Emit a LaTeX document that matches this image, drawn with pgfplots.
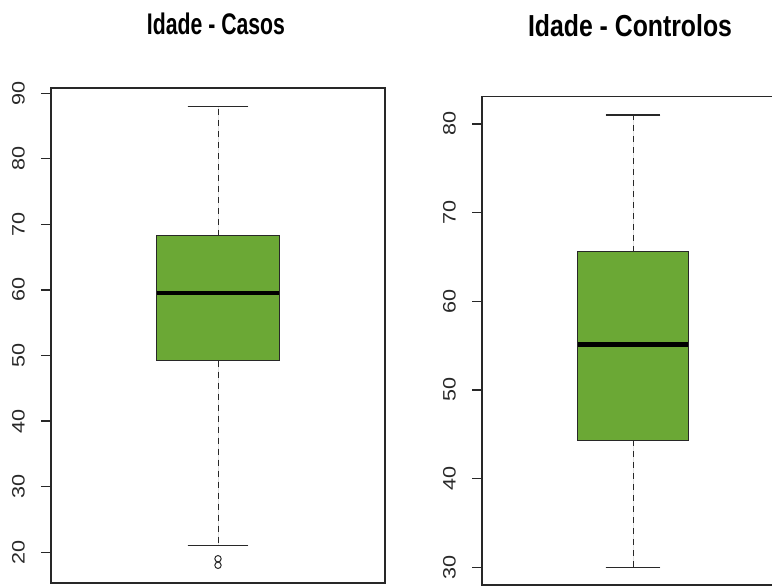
\documentclass[border=0pt]{standalone}
\usepackage{pgfplots}
\pgfplotsset{compat=1.18}
\usepgfplotslibrary{statistics}
\usepackage{fontspec}
\setmainfont{Liberation Sans}
\definecolor{boxgreen}{RGB}{107,168,53}
\definecolor{framec}{RGB}{40,40,40}

\pgfplotsset{
  rbox/.style={
    scale only axis,
    xmin=0, xmax=2,
    xtick=\empty,
    axis line style={framec, line width=1.3pt},
    ytick pos=left,
    tick align=outside,
    major tick length=10pt,
    ytick style={draw=framec, line width=1.2pt},
    /pgf/number format/assume math mode=true,
    yticklabel shift=16pt,
    yticklabel style={rotate=90, anchor=south, inner sep=0pt, font=\fontsize{18}{18}\selectfont, text=framec},
    yticklabel={\scalebox{1.2}[1]{\pgfmathprintnumber{\tick}}},
    boxplot/draw direction=y,
    boxplot/box extend=0.735,
    boxplot/whisker extend=0.364,
    boxplot/every median/.style={black, line width=4.5pt},
    boxplot/draw/lower whisker/.code={
      \draw[framec, line width=1pt, dash pattern=on 6pt off 5pt]
        (boxplot cs:\pgfplotsboxplotvalue{lower quartile}) -- (boxplot cs:\pgfplotsboxplotvalue{lower whisker});
      \draw[framec, line width=1.5pt]
        (boxplot whisker cs:\pgfplotsboxplotvalue{lower whisker},0) -- (boxplot whisker cs:\pgfplotsboxplotvalue{lower whisker},1);
    },
    boxplot/draw/upper whisker/.code={
      \draw[framec, line width=1pt, dash pattern=on 6pt off 5pt]
        (boxplot cs:\pgfplotsboxplotvalue{upper quartile}) -- (boxplot cs:\pgfplotsboxplotvalue{upper whisker});
      \draw[framec, line width=1.5pt]
        (boxplot whisker cs:\pgfplotsboxplotvalue{upper whisker},0) -- (boxplot whisker cs:\pgfplotsboxplotvalue{upper whisker},1);
    },
  },
}

\begin{document}
\begin{tikzpicture}[x=1pt,y=1pt]
\path[use as bounding box] (0,0) rectangle (772,586);

% Left panel: Idade - Casos
\begin{axis}[rbox,
  at={(51pt,3pt)}, anchor=south west,
  width=334pt, height=495pt,
  ymin=15.3, ymax=90.8,
  ytick={20,30,40,50,60,70,80,90},
]
\addplot[boxplot prepared={draw position=1,
    median=59.5, upper quartile=68.3, lower quartile=49.2,
    upper whisker=88, lower whisker=21},
  draw=framec, fill=boxgreen, line width=1.3pt,
  mark=o, mark size=3.2pt, mark options={draw=framec, fill=none, line width=1pt}]
  table[row sep=\\, y index=0] {19\\18\\};
\end{axis}

% Right panel: Idade - Controlos
\begin{axis}[rbox,
  at={(482pt,1pt)}, anchor=south west,
  width=302pt, height=488.5pt,
  ymin=28.0, ymax=83.1,
  ytick={30,40,50,60,70,80},
]
\addplot[boxplot prepared={draw position=1,
    median=55.1, upper quartile=65.6, lower quartile=44.3,
    upper whisker=81, lower whisker=30},
  draw=framec, fill=boxgreen, line width=1.3pt]
  coordinates {};
\end{axis}

\node[anchor=base, inner sep=0pt] at (216,551.7) {\resizebox{138pt}{21.6pt}{\bfseries Idade - Casos}};
\node[anchor=base, inner sep=0pt] at (630,549.3) {\resizebox{204pt}{22pt}{\bfseries Idade - Controlos}};
\end{tikzpicture}
\end{document}
